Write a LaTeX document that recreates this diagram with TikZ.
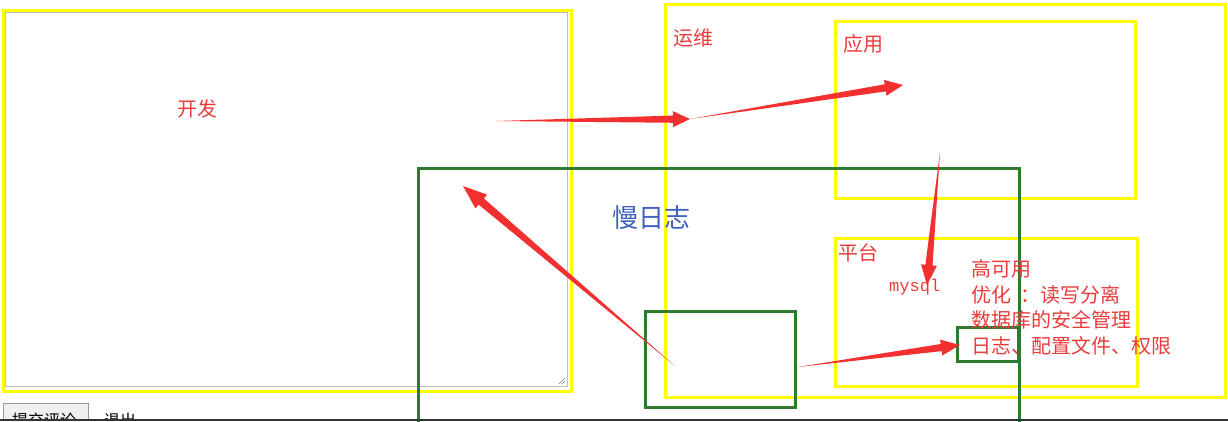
\documentclass[tikz,border=0pt]{standalone}
\usepackage{fontspec}
\setmainfont{Noto Sans CJK SC}
\newfontfamily\monof{Liberation Mono}
\usetikzlibrary{calc}
\definecolor{ylw}{RGB}{255,255,0}
\definecolor{grn}{RGB}{46,122,46}
\definecolor{txtred}{RGB}{235,60,60}
\definecolor{arrred}{RGB}{242,48,48}
\definecolor{slowblue}{RGB}{64,96,192}
\tikzset{
  ybox/.style={draw=ylw, line width=3pt},
  gbox/.style={draw=grn, line width=3pt},
  lbl/.style={text=txtred, font=\fontsize{20}{23}\selectfont, inner sep=0pt},
  arrowfill/.style={fill=arrred, draw=none},
}
\newcommand\tarrow[4]{%
  \path ($(#2)!#3!(#1)$) coordinate (tmpH);
  \fill[arrowfill] (#1) -- ($(tmpH)!#4*0.45!90:(#2)$) -- ($(tmpH)!#4!90:(#2)$) -- (#2)
     -- ($(tmpH)!#4!-90:(#2)$) -- ($(tmpH)!#4*0.45!-90:(#2)$) -- cycle;}
\begin{document}
\begin{tikzpicture}[x=1pt,y=-1pt]
\useasboundingbox (0,0) rectangle (1228,421);
\fill[white] (0,0) rectangle (1228,421);
% textarea grey border
\draw[black!25, line width=0.8pt] (5,12) rectangle (567,386);
\draw[black!50, line width=0.5pt] (559,384) -- (565,378) (562,384) -- (565,381);
% yellow boxes
\draw[ybox] (3.5,10.5) rectangle (571.5,391.5);
\draw[ybox] (665.5,4.5) rectangle (1225.5,397.5);
\draw[ybox] (835.5,21.5) rectangle (1135.5,198.5);
\draw[ybox] (835.5,238.5) rectangle (1137.5,386.5);
% green boxes
\draw[gbox] (418.5,168.5) rectangle (1019.5,425);
\draw[gbox] (645.5,311.5) rectangle (795.5,407.5);
\draw[gbox] (957.5,327.5) rectangle (1018.5,361.5);
% labels
\node[lbl, anchor=west] (kf) at (177,109) {开发};
\node[lbl, anchor=west] (yw) at (673,38) {运维};
\node[lbl, anchor=west] (yy) at (843,44) {应用};
\node[lbl, anchor=west] (pt) at (838,253) {平台};
\node[text=slowblue, font=\fontsize{26}{29}\selectfont, inner sep=0pt, anchor=west] (slow) at (612,218) {慢日志};
\node[text=txtred, font=\monof\fontsize{17}{20}\selectfont, inner sep=0pt, anchor=west] (mysql) at (889,287) {mysql};
\node[lbl, anchor=west] (l1) at (971,269) {高可用};
\node[lbl, anchor=west] (l2) at (971,295) {优化\ \ ：读写分离};
\node[lbl, anchor=west] (l3) at (971,320) {数据库的安全管理};
\node[lbl, anchor=west] (l4) at (971,346) {日志、配置文件、权限};
% arrow coordinates
\coordinate (a1s) at (496,121);
\coordinate (a1e) at (690,119);
\coordinate (a2e) at (903,85);
\coordinate (a3s) at (940,152);
\coordinate (a3e) at (927,285);
\coordinate (a4s) at (675,366);
\coordinate (a4e) at (463,186);
\coordinate (a5s) at (798,367);
\coordinate (a5e) at (960,345);
\tarrow{a1s}{a1e}{17pt}{8pt}
\tarrow{a1e}{a2e}{18pt}{8pt}
\tarrow{a3s}{a3e}{20pt}{8pt}
\tarrow{a4s}{a4e}{24pt}{9pt}
\tarrow{a5s}{a5e}{19pt}{8pt}
% bottom cut-off button and link
\begin{scope}
\clip (0,0) rectangle (1228,419);
\draw[black!40, fill=black!6, line width=0.8pt] (3.5,403.5) rectangle (88,430);
\node[font=\fontsize{16}{18}\selectfont, inner sep=0pt, anchor=west] (btn) at (12,420) {提交评论};
\node[font=\fontsize{16}{18}\selectfont, inner sep=0pt, anchor=west] (exit) at (104,420) {退出};
\end{scope}
\fill[black!80] (0,419) rectangle (1228,421);
\end{tikzpicture}
\end{document}
